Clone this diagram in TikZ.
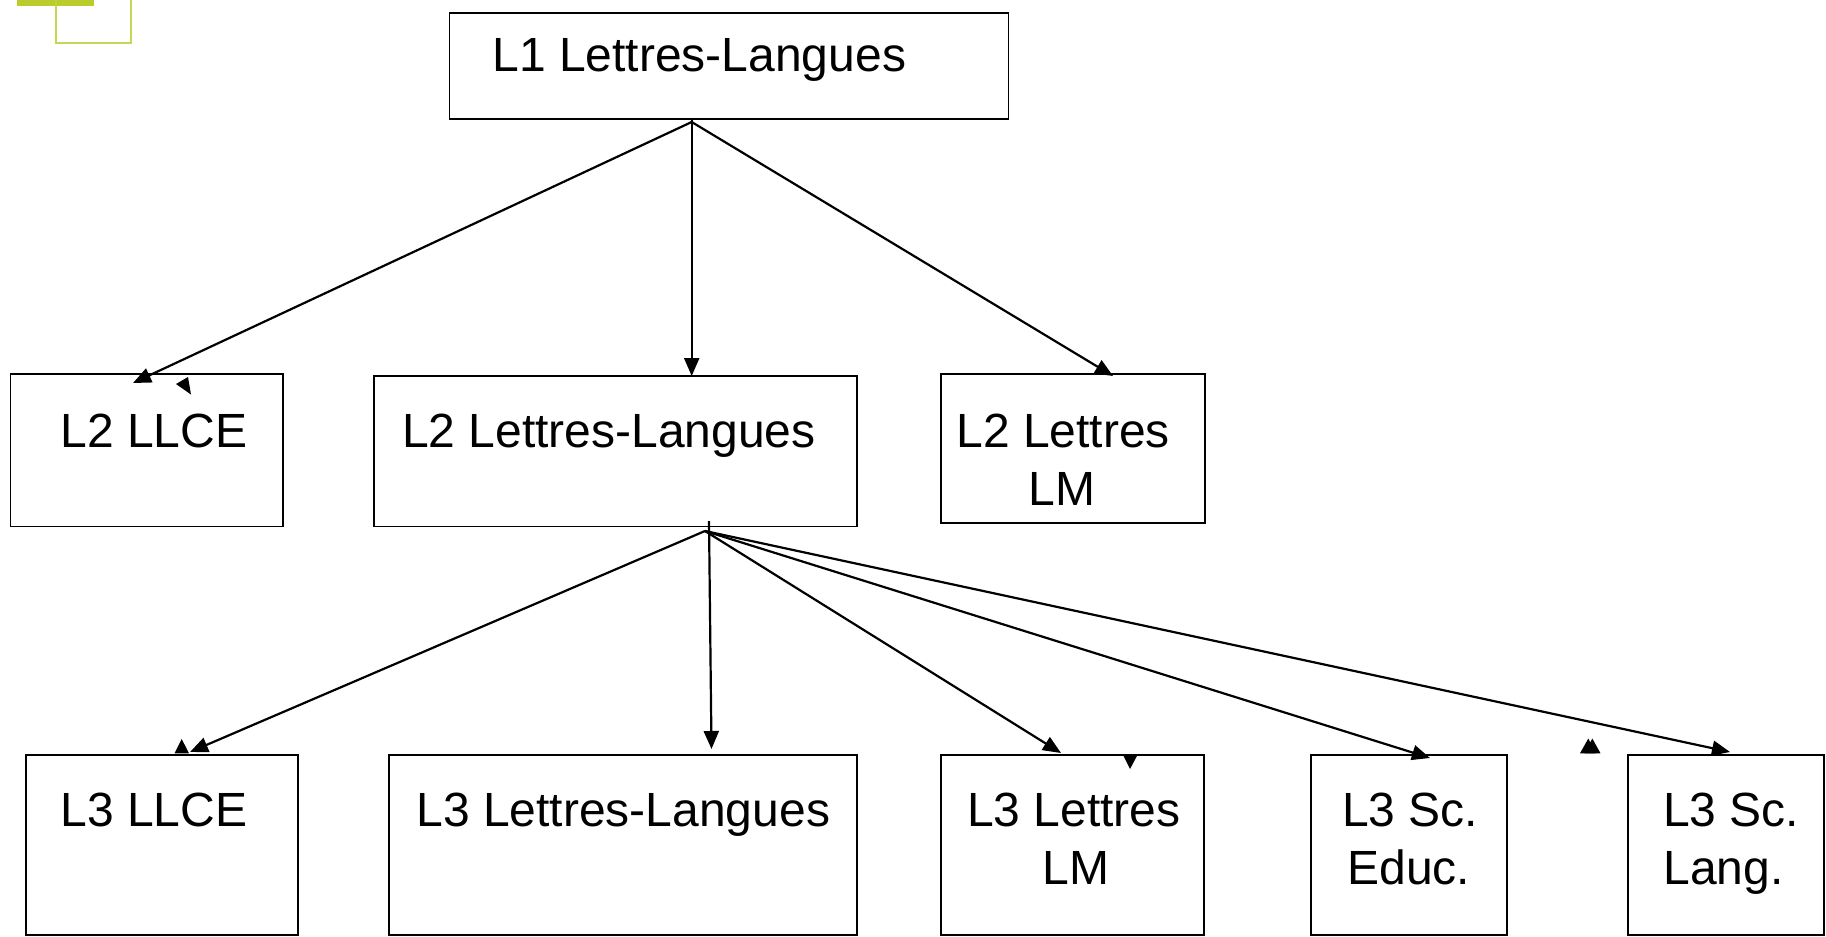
\documentclass[tikz,border=0pt]{standalone}
\usepackage{fontspec}
\setmainfont{Liberation Sans}
\usetikzlibrary{arrows.meta}
\definecolor{accentfill}{HTML}{B9CC2B}
\definecolor{accentline}{HTML}{BFD443}
\tikzset{
  box/.style={draw=black, line width=1.8pt, rectangle, inner sep=0pt, outer sep=0pt, anchor=north west},
  lbl/.style={anchor=base west, inner sep=0pt, outer sep=0pt, font=\fontsize{48pt}{58pt}\selectfont},
  conn/.style={draw=black, line width=2.2pt, -{Triangle[length=18pt,width=15pt]}},
  strayhead/.style={fill=black, draw=none}
}
\begin{document}
\begin{tikzpicture}[x=1pt,y=-1pt]
\useasboundingbox (0,0) rectangle (1826,937);
% decoration
\fill[accentfill] (17.3,0) rectangle (94,6);
\draw[accentline, line width=2pt, opacity=0.9] (56,0) -- (56,42.5) -- (130.5,42.5) -- (130.5,0);
% boxes
\node[box, minimum width=559pt, minimum height=106pt] (l1) at (449.5,12.8) {};
\node[box, minimum width=272.5pt, minimum height=152.6pt] (l2a) at (10.5,373.8) {};
\node[box, minimum width=483.2pt, minimum height=150.4pt] (l2b) at (373.8,376) {};
\node[box, minimum width=264pt, minimum height=149.5pt] (l2c) at (941,373.8) {};
\node[box, minimum width=272.5pt, minimum height=180.4pt] (l3a) at (25.6,754.6) {};
\node[box, minimum width=468pt, minimum height=180.4pt] (l3b) at (389,754.6) {};
\node[box, minimum width=263pt, minimum height=180.4pt] (l3c) at (941,754.6) {};
\node[box, minimum width=195.7pt, minimum height=180.4pt] (l3d) at (1311.2,754.6) {};
\node[box, minimum width=195.6pt, minimum height=180.4pt] (l3e) at (1628,754.6) {};
% texts
\node[lbl] (t1) at (492.5,71) {L1 Lettres-Langues};
\node[lbl] (t2a) at (60.5,447.5) {L2 LLCE};
\node[lbl] (t2b) at (402,447.5) {L2 Lettres-Langues};
\node[lbl] (t2c1) at (956.5,447.5) {L2 Lettres};
\node[lbl] (t2c2) at (1028.5,505.5) {LM};
\node[lbl] (t3a) at (60.5,826) {L3 LLCE};
\node[lbl] (t3b) at (416.5,826) {L3 Lettres-Langues};
\node[lbl] (t3c1) at (967,826) {L3 Lettres};
\node[lbl] (t3c2) at (1042.5,884) {LM};
\node[lbl] (t3d1) at (1342,826) {L3 Sc.};
\node[lbl] (t3d2) at (1347.5,884) {Educ.};
\node[lbl] (t3e1) at (1663,826) {L3 Sc.};
\node[lbl] (t3e2) at (1663.5,884) {Lang.};
% connector points
\coordinate (s1) at (691.7,122);
\coordinate (s1v) at (691.7,118.8);
\coordinate (e1a) at (133,383);
\coordinate (e1b) at (691.7,376);
\coordinate (e1c) at (1113,376);
\coordinate (s2) at (705,531);
\coordinate (s2v) at (709,521);
\coordinate (e2a) at (190,752);
\coordinate (e2b) at (711.5,749);
\coordinate (e2c) at (1061,753);
\coordinate (e2d) at (1430,758);
\coordinate (e2e) at (1730,752);
% connectors
\draw[conn] (s1) -- (e1a);
\draw[conn] (s1v) -- (e1b);
\draw[conn] (s1) -- (e1c);
\draw[conn] (s2) -- (e2a);
\draw[conn] (s2v) -- (e2b);
\draw[conn] (s2) -- (e2c);
\draw[conn] (s2) -- (e2d);
\draw[conn] (s2) -- (e2e);
% stray arrowheads
\fill[strayhead] (176,384) -- (188,377) -- (191,394.5) -- cycle;
\fill[strayhead] (174.5,753.3) -- (189,753.3) -- (181.7,739) -- cycle;
\fill[strayhead] (1122.5,754) -- (1138,754) -- (1130,769) -- cycle;
\fill[strayhead] (1580,753.3) -- (1595.5,753.3) -- (1588.3,738.5) -- cycle;
\fill[strayhead] (1584.5,753.3) -- (1600.5,753.3) -- (1592.3,738.5) -- cycle;
\end{tikzpicture}
\end{document}
